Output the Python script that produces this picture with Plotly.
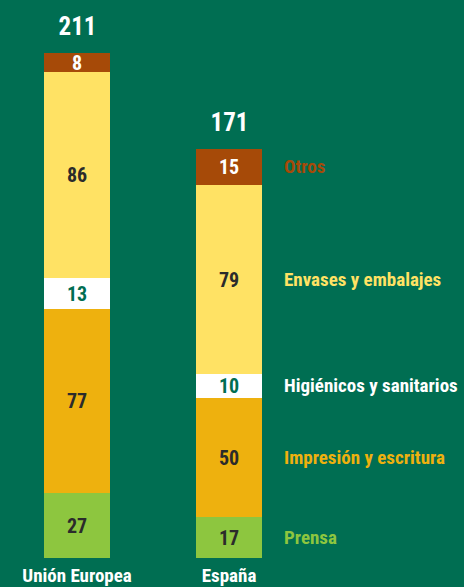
import plotly.graph_objects as go

regiones = ["Unión Europea", "España"]
categorias = ["Prensa", "Impresión y escritura", "Higiénicos y sanitarios",
              "Envases y embalajes", "Otros"]
prensa = [27, 17]
impresion = [77, 50]
higienicos = [13, 10]
envases = [86, 79]
otros = [8, 15]
totales = [211, 171]

series = [prensa, impresion, higienicos, envases, otros]
colores = ["#8DC63F", "#EEB10E", "#FFFFFF", "#FFE264", "#A64A08"]
color_texto = ["#2B2B2B", "#2B2B2B", "#006E52", "#2B2B2B", "#FFFFFF"]
color_leyenda = ["#8DC63F", "#EEB10E", "#FFFFFF", "#FFE264", "#A64A08"]

FUENTE = "Roboto"
BG = "#006E52"

fig = go.Figure()
for nombre, vals, col, ct in zip(categorias, series, colores, color_texto):
    fig.add_trace(go.Bar(
        x=regiones, y=vals, name=nombre,
        marker=dict(color=col, line=dict(width=0)),
        width=0.434,
        text=[f"<b>{v}</b>" for v in vals],
        textposition="inside", insidetextanchor="middle", textangle=0,
        textfont=dict(family=FUENTE, size=20, color=ct),
        constraintext="none",
        hoverinfo="skip",
    ))

# totales encima de cada barra
for reg, tot in zip(regiones, totales):
    fig.add_annotation(x=reg, y=tot, text=f"<b>{tot}</b>", showarrow=False,
                       yanchor="bottom", yshift=10,
                       font=dict(family=FUENTE, size=25, color="white"))

# etiquetas de categoría junto a la barra de España
acum = 0
for nombre, vals, col in zip(categorias, series, color_leyenda):
    medio = acum + vals[1] / 2
    acum += vals[1]
    fig.add_annotation(x="España", y=medio, text=f"<b>{nombre}</b>",
                       showarrow=False, xanchor="left", xshift=53,
                       width=230, align="left",
                       font=dict(family=FUENTE, size=19, color=col))

fig.update_layout(
    width=464, height=587,
    barmode="stack", bargap=0,
    paper_bgcolor=BG, plot_bgcolor=BG,
    showlegend=False,
    margin=dict(l=0, r=0, t=0, b=29),
    font=dict(family=FUENTE, color="white"),
)
fig.update_xaxes(range=[-0.507, 2.546], showgrid=False, zeroline=False,
                 showline=False, ticks="", fixedrange=True,
                 ticklabelstandoff=4,
                 tickfont=dict(family=FUENTE, size=19, color="white"),
                 ticktext=[f"<b>{r}</b>" for r in regiones], tickvals=regiones)
fig.update_yaxes(range=[0, 233.2], visible=False, fixedrange=True)

js = """
document.body.style.margin='0';
document.body.style.overflow='hidden';
var st=document.createElement('style');
st.textContent='svg text{font-stretch:75% !important;font-variation-settings:"wdth" 75;}';
document.head.appendChild(st);
"""
fig.write_html("out.html", config={"displayModeBar": False}, post_script=js)
